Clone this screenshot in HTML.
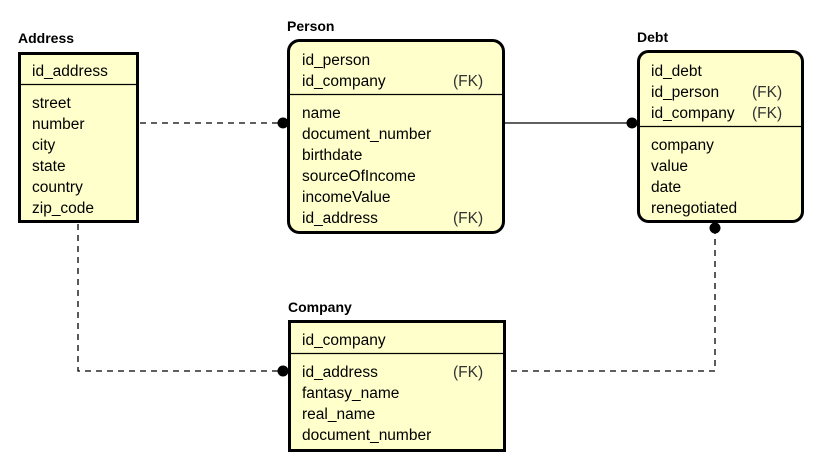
<!DOCTYPE html>
<html><head><meta charset="utf-8"><style>
html,body{margin:0;padding:0;background:#fff;width:819px;height:462px;overflow:hidden}
svg{display:block}
text{font-family:"Liberation Sans","DejaVu Sans",sans-serif;font-size:15.5px;fill:#000}
.t{font-weight:bold;font-size:14px}
.fk{fill:#333}
</style></head><body>
<svg width="819" height="462" viewBox="0 0 819 462">
<g stroke="#000" stroke-width="1.3" fill="none">
<line x1="140" y1="123" x2="282" y2="123" stroke-dasharray="6,5"/>
<line x1="505" y1="123" x2="631" y2="123"/>
<polyline points="78,224 78,371 282,371" stroke-dasharray="6,5"/>
<polyline points="715,228 715,371 506,371" stroke-dasharray="6,5"/>
</g>
<g fill="#000">
<circle cx="283" cy="123" r="5.5"/>
<circle cx="632" cy="123" r="5.5"/>
<circle cx="283" cy="371" r="5.5"/>
<circle cx="715" cy="228" r="5.5"/>
</g>
<text class="t" x="18" y="43">Address</text>
<rect x="19.5" y="53.5" width="118" height="168" fill="#ffffcc" stroke="#000" stroke-width="3"/>
<line x1="19" y1="84.5" x2="138" y2="84.5" stroke="#000" stroke-width="1.3"/>
<text x="32" y="76">id_address</text>
<text x="32" y="108">street</text>
<text x="32" y="129">number</text>
<text x="32" y="150">city</text>
<text x="32" y="171">state</text>
<text x="32" y="192">country</text>
<text x="32" y="213">zip_code</text>
<text class="t" x="287" y="31">Person</text>
<rect x="288.5" y="40.5" width="215" height="192" rx="11" fill="#ffffcc" stroke="#000" stroke-width="3"/>
<line x1="289" y1="94.5" x2="503" y2="94.5" stroke="#000" stroke-width="1.3"/>
<text x="302" y="65">id_person</text>
<text x="302" y="86">id_company</text><text class="fk" x="453" y="86">(FK)</text>
<text x="302" y="118">name</text>
<text x="302" y="139">document_number</text>
<text x="302" y="160">birthdate</text>
<text x="302" y="181">sourceOfIncome</text>
<text x="302" y="202">incomeValue</text>
<text x="302" y="223">id_address</text><text class="fk" x="453" y="223">(FK)</text>
<text class="t" x="637" y="42">Debt</text>
<rect x="638.5" y="51.5" width="164" height="170" rx="10" fill="#ffffcc" stroke="#000" stroke-width="3"/>
<line x1="639" y1="126.5" x2="802" y2="126.5" stroke="#000" stroke-width="1.3"/>
<text x="651" y="76">id_debt</text>
<text x="651" y="97">id_person</text><text class="fk" x="752" y="97">(FK)</text>
<text x="651" y="118">id_company</text><text class="fk" x="752" y="118">(FK)</text>
<text x="651" y="150">company</text>
<text x="651" y="171">value</text>
<text x="651" y="192">date</text>
<text x="651" y="213">renegotiated</text>
<text class="t" x="288" y="312">Company</text>
<rect x="289.5" y="321.5" width="215" height="129" fill="#ffffcc" stroke="#000" stroke-width="3"/>
<line x1="289" y1="353.5" x2="505" y2="353.5" stroke="#000" stroke-width="1.3"/>
<text x="302" y="345">id_company</text>
<text x="302" y="377">id_address</text><text class="fk" x="453" y="377">(FK)</text>
<text x="302" y="398">fantasy_name</text>
<text x="302" y="419">real_name</text>
<text x="302" y="440">document_number</text>
</svg>
</body></html>
